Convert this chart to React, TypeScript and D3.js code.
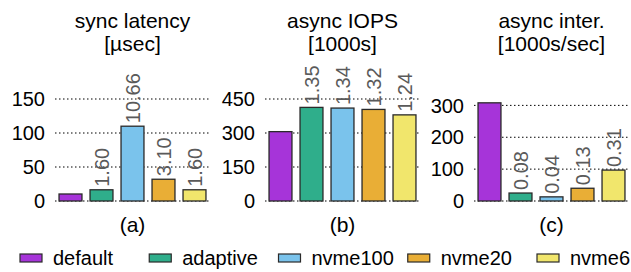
'use client';

import { useEffect, useRef } from 'react';
import * as d3 from 'd3';

// Series names and colours (legend order = bar order)
const configs = ['default', 'adaptive', 'nvme100', 'nvme20', 'nvme6'];
const colors = ['#a634d9', '#2fae8b', '#7ac3ec', '#e9ae36', '#f1e66c'];

// Panel (a) sync latency [usec]
const latencyValues = [10.3, 16.5, 110, 32, 16.5];
const latencyLabels = ['', '1.60', '10.66', '3.10', '1.60'];
const latencyTicks = [0, 50, 100, 150];

// Panel (b) async IOPS [1000s]
const iopsValues = [306, 413, 410, 404, 380];
const iopsLabels = ['', '1.35', '1.34', '1.32', '1.24'];
const iopsTicks = [0, 150, 300, 450];

// Panel (c) async interrupts [1000s/sec]
const interValues = [308, 25, 13, 40, 97];
const interLabels = ['', '0.08', '0.04', '0.13', '0.31'];
const interTicks = [0, 100, 200, 300];

interface Panel {
  title: string[];
  tag: string;
  values: number[];
  labels: string[];
  ticks: number[];
  max: number;
}

const panels: Panel[] = [
  { title: ['sync latency', '[\u00b5sec]'], tag: '(a)', values: latencyValues, labels: latencyLabels, ticks: latencyTicks, max: 150 },
  { title: ['async IOPS', '[1000s]'], tag: '(b)', values: iopsValues, labels: iopsLabels, ticks: iopsTicks, max: 450 },
  { title: ['async inter.', '[1000s/sec]'], tag: '(c)', values: interValues, labels: interLabels, ticks: interTicks, max: 320 },
];

const App = () => {
  const svgRef = useRef<SVGSVGElement | null>(null);

  useEffect(() => {
    const width = 631;
    const height = 272;
    const font = "'Liberation Sans', Arial, Helvetica, sans-serif";
    const panelOffsets = [0, 210, 419];

    const svg = d3.select(svgRef.current)
      .attr('width', width)
      .attr('height', height)
      .style('font-family', font);
    svg.selectAll('*').remove();

    const x = d3.scaleBand<string>()
      .domain(configs)
      .range([55, 210])
      .paddingInner(0.26)
      .paddingOuter(0.13);

    panels.forEach((p, pi) => {
      const g = svg.append('g').attr('transform', `translate(${panelOffsets[pi]},0)`);
      const y = d3.scaleLinear().domain([0, p.max]).range([201, 99]);
      const cx = (x(configs[0])! + x(configs[configs.length - 1])! + x.bandwidth()) / 2;

      // title, two lines
      g.selectAll('.title')
        .data(p.title)
        .join('text')
        .attr('x', cx)
        .attr('y', (d, i) => 28 + i * 23)
        .attr('text-anchor', 'middle')
        .style('font-size', '21px')
        .text(d => d);

      // dotted grid lines
      g.selectAll('.grid')
        .data(p.ticks)
        .join('line')
        .attr('x1', 55)
        .attr('x2', 210)
        .attr('y1', d => y(d))
        .attr('y2', d => y(d))
        .attr('stroke', '#000')
        .attr('stroke-width', 1)
        .attr('stroke-dasharray', '1.5,2.5');

      // y tick labels
      g.selectAll('.tick')
        .data(p.ticks)
        .join('text')
        .attr('x', 45)
        .attr('y', d => y(d))
        .attr('dy', '0.36em')
        .attr('text-anchor', 'end')
        .style('font-size', '20px')
        .text(d => d);

      // bars
      g.selectAll('rect')
        .data(p.values)
        .join('rect')
        .attr('x', (d, i) => x(configs[i])!)
        .attr('y', d => y(d))
        .attr('width', x.bandwidth())
        .attr('height', d => y(0) - y(d))
        .attr('fill', (d, i) => colors[i])
        .attr('stroke', '#2a2a2a')
        .attr('stroke-width', 1.3);

      // rotated ratio labels above bars
      g.selectAll('.lbl')
        .data(p.values)
        .join('text')
        .attr('transform', (d, i) => `translate(${x(configs[i])! + x.bandwidth() / 2},${y(d) - 3}) rotate(-90)`)
        .attr('dy', '0.36em')
        .attr('text-anchor', 'start')
        .attr('fill', '#5a5a5a')
        .style('font-size', '20px')
        .text((d, i) => p.labels[i]);

      // panel tag
      g.append('text')
        .attr('x', cx)
        .attr('y', 232)
        .attr('text-anchor', 'middle')
        .style('font-size', '21px')
        .text(p.tag);
    });

    // legend
    const lx = d3.scalePoint<string>().domain(configs).range([20, 537]);
    const items = svg.append('g')
      .selectAll('g')
      .data(configs)
      .join('g')
      .attr('transform', d => `translate(${lx(d)},0)`);
    items.append('rect')
      .attr('x', 0)
      .attr('y', 254)
      .attr('width', 22)
      .attr('height', 8)
      .attr('fill', (d, i) => colors[i])
      .attr('stroke', '#2a2a2a')
      .attr('stroke-width', 1.2);
    items.append('text')
      .attr('x', 33)
      .attr('y', 265)
      .style('font-size', '20px')
      .text(d => d);
  }, []);

  return (
    <svg ref={svgRef} style={{ position: 'absolute', left: 0, top: 0, background: '#fff' }}></svg>
  );
};

export default App;
